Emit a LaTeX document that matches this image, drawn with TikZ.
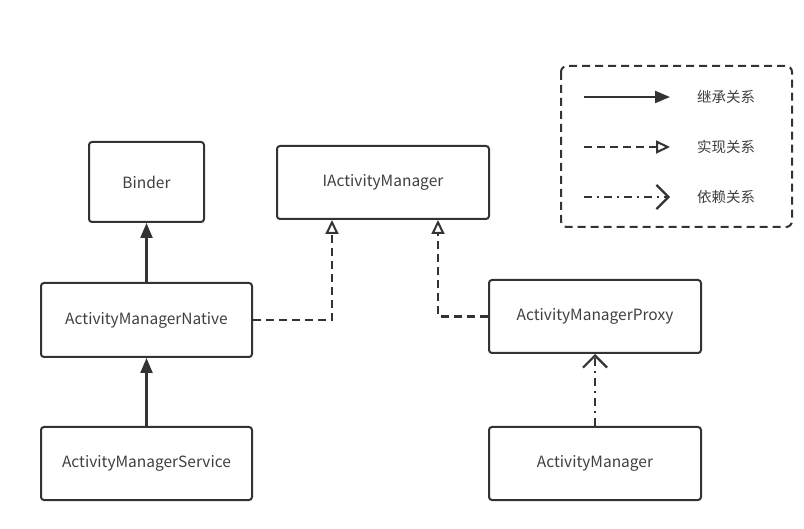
\documentclass[tikz,border=0pt]{standalone}
\usepackage{fontspec}
\setmainfont{Noto Sans CJK SC}
\usetikzlibrary{arrows.meta}
\definecolor{ink}{HTML}{333333}
\definecolor{txt}{HTML}{404040}
\tikzset{
  box/.style={draw=ink, line width=2pt, rounded corners=3pt, fill=white, text=txt, font=\fontsize{15.5}{18}\selectfont},
  inherit/.style={draw=ink, line width=2.2pt, -{Triangle[width=12pt,length=15pt]}},
  realize/.style={draw=ink, line width=2.2pt, dash pattern=on 8pt off 5pt, -{Triangle[open,width=13pt,length=14pt,line width=2pt]}},
  depend/.style={draw=ink, line width=2.2pt, dash pattern=on 8pt off 5pt on 2pt off 5pt, -{Straight Barb[width=24pt,length=12pt,line width=2.2pt]}},
  legtext/.style={text=txt, font=\fontsize{14.5}{17}\selectfont, anchor=center},
}
\begin{document}
\begin{tikzpicture}[x=1pt,y=-1pt]
\useasboundingbox[fill=white] (0,0) rectangle (804,529);
\node[box, minimum width=115pt, minimum height=80pt] (binder) at (146.5,182) {Binder};
\node[box, minimum width=212pt, minimum height=73pt] (iam) at (383,182.5) {IActivityManager};
\node[box, minimum width=211pt, minimum height=74pt] (amn) at (146.5,320) {ActivityManagerNative};
\node[box, minimum width=211pt, minimum height=73pt] (ams) at (146.5,463.5) {ActivityManagerService};
\node[box, minimum width=212pt, minimum height=73pt] (amp) at (595,316.5) {ActivityManagerProxy};
\node[box, minimum width=212pt, minimum height=73pt] (am) at (595,463.5) {ActivityManager};

\draw[inherit] (amn.north) -- (binder.south);
\draw[inherit] (ams.north) -- (amn.south);
\draw[realize] (amn.east) -| (iam.south -| 332,0);
\draw[realize] (amp.west) -| (iam.south -| 438,0);
\draw[depend] (am.north) -- (amp.south);

% legend
\draw[ink, line width=2pt, dash pattern=on 8pt off 5pt, rounded corners=6pt] (561,66) rectangle (792,227);
\coordinate (l1a) at (584,97); \coordinate (l1b) at (670,97);
\coordinate (l2a) at (584,147); \coordinate (l2b) at (670,147);
\coordinate (l3a) at (584,197); \coordinate (l3b) at (670,197);
\draw[inherit] (l1a) -- (l1b);
\draw[realize] (l2a) -- (l2b);
\draw[depend] (l3a) -- (l3b);
\node[legtext] (t1) at (726,97) {继承关系};
\node[legtext] (t2) at (726,147) {实现关系};
\node[legtext] (t3) at (726,197) {依赖关系};
\end{tikzpicture}
\end{document}
